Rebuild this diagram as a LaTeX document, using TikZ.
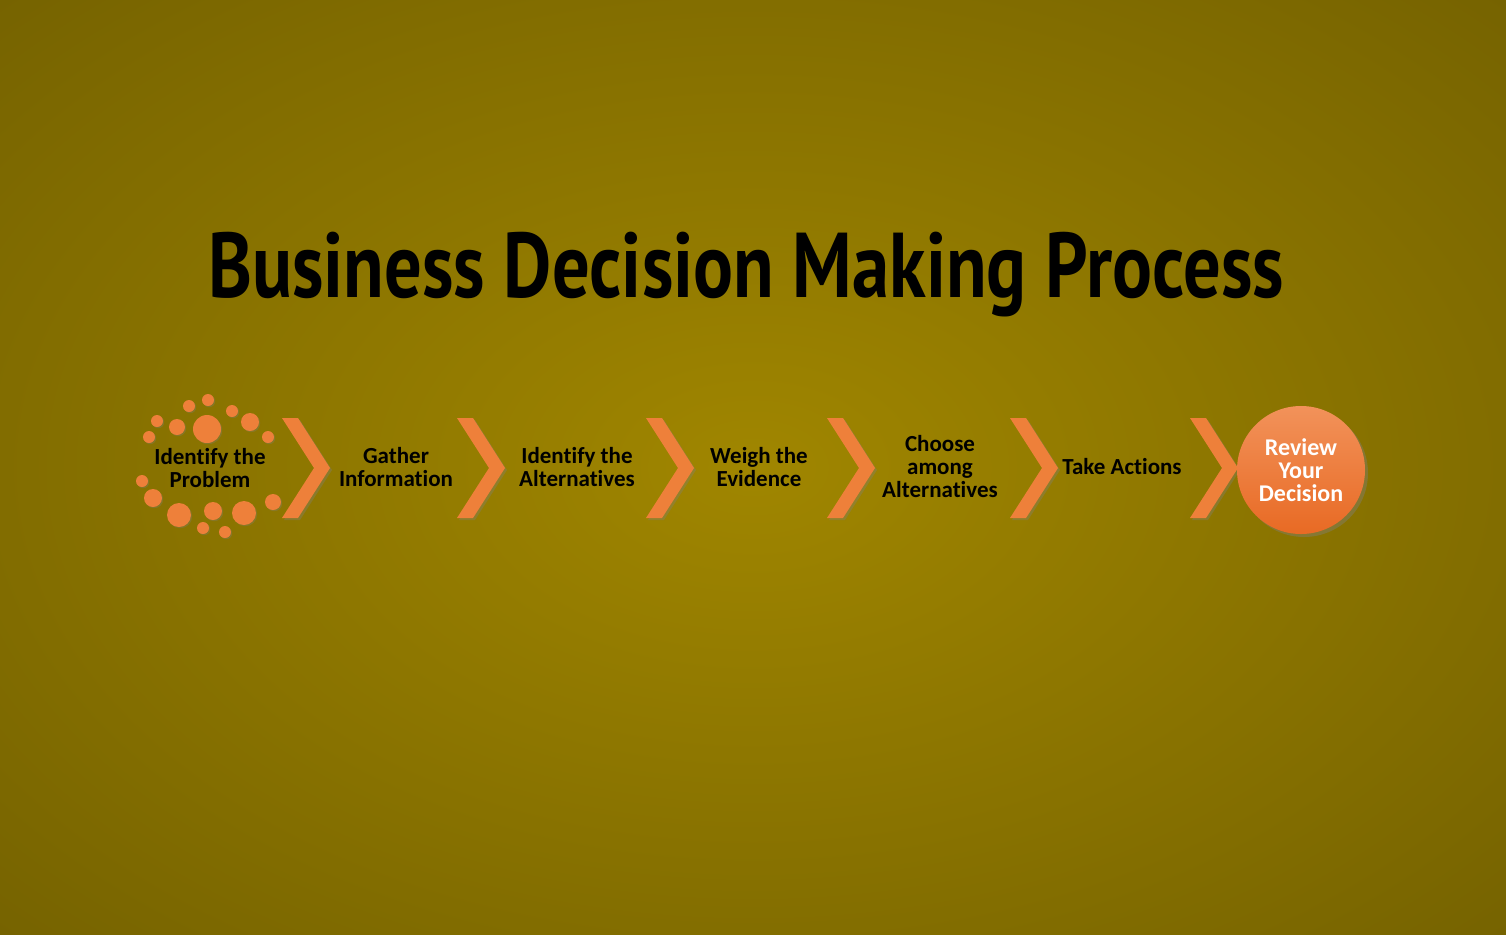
\documentclass[tikz,border=0pt]{standalone}
\usepackage{fontspec}
\setmainfont{Carlito}[Ligatures=NoCommon]
\newfontfamily\titlefont{PT Sans}
\usetikzlibrary{shadows}

\definecolor{bgin}{RGB}{160,134,0}
\definecolor{bgout}{RGB}{112,94,0}
\definecolor{orchev}{RGB}{238,128,58}
\definecolor{ortop}{RGB}{242,146,90}
\definecolor{orbot}{RGB}{232,106,36}

\begin{document}
\begin{tikzpicture}[x=0.5pt, y=-0.5pt,
		every node/.style={align=center, font=\fontsize{11.5}{11.5}\selectfont\bfseries},
		chev/.style={fill=orchev, drop shadow={opacity=0.35, shadow xshift=1pt, shadow yshift=-1pt}},
		dot/.style={fill=orchev, drop shadow={opacity=0.3, shadow xshift=0.6pt, shadow yshift=-0.6pt}}]
	\useasboundingbox (0,0) rectangle (1506,934);
	\begin{scope}
		\clip (0,0) rectangle (1506,934);
		\shade[inner color=bgin, outer color=bgout] (-450,-300) rectangle (1956,1234);
	\end{scope}

	\node[anchor=base, font=\titlefont\fontsize{46}{50}\selectfont\bfseries, xscale=0.81] (title) at (746,297) {Business Decision Making Process};

	% dots round the first step
	\foreach \x/\y/\r in {208/400/6, 189/406/6, 232/411/6, 157/421/6, 177/427/8, 207/429/14,
			250/422/9, 149/437/6, 268/437/6, 142/481/6, 153/498/9, 179/515/12, 213/511/9,
			244/513/12, 273/502/8, 203/528/6, 225/532/6}
		\fill[dot] (\x,\y) circle (\r);

	% chevrons
	\foreach \x in {282,457,646,827,1010,1190}
		\fill[chev] (\x,418) -- ++(16,0) -- ++(32,50) -- ++(-32,50) -- ++(-16,0) -- ++(32,-50) -- cycle;

	\node (s1) at (210,468) {Identify the\\Problem};
	\node (s2) at (396,467) {Gather\\Information};
	\node (s3) at (577,467) {Identify the\\Alternatives};
	\node (s4) at (759,467) {Weigh the\\Evidence};
	\node (s5) at (940,467) {Choose\\among\\Alternatives};
	\node (s6) at (1122,467) {Take Actions};
	\node[circle, minimum size=64pt, top color=ortop, bottom color=orbot, text=white,
		font=\fontsize{12}{11.5}\selectfont\bfseries,
		drop shadow={opacity=0.4, shadow xshift=1.5pt, shadow yshift=-1.5pt}] (review) at (1301,470) {Review\\Your\\Decision};
\end{tikzpicture}
\end{document}
